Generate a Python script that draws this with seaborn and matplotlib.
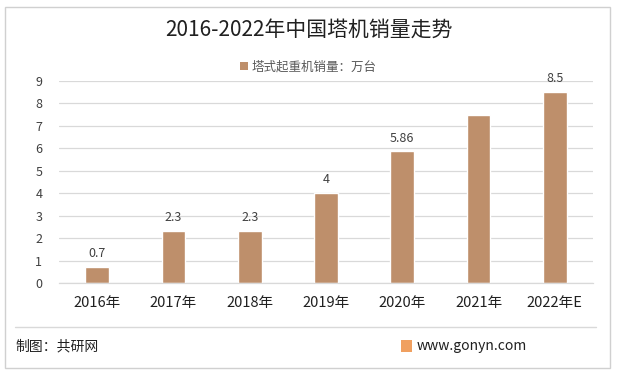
import matplotlib
matplotlib.use("Agg")
import matplotlib.pyplot as plt
import seaborn as sns
import pandas as pd
from matplotlib.patches import Rectangle, Patch
from matplotlib.lines import Line2D

categories = ["2016年", "2017年", "2018年", "2019年", "2020年", "2021年", "2022年E"]
values = [0.7, 2.3, 2.3, 4.0, 5.86, 7.5, 8.5]
labels = ["0.7", "2.3", "2.3", "4", "5.86", "", "8.5"]
series_name = "塔式起重机销量：万台"
title = "2016-2022年中国塔机销量走势"
yticks = list(range(0, 10))

sns.set_theme(style="white")
plt.rcParams['font.family'] = ['Noto Sans CJK SC', 'DejaVu Sans']

color = "#BE8F6B"
text_color = "#404040"

df = pd.DataFrame({"cat": categories, "val": values})

fig = plt.figure(figsize=(6.17, 3.75), dpi=100)
ax = fig.add_axes([59/617, 1-283/375, 534/617, 202/375])

sns.barplot(data=df, x="cat", y="val", color=color, width=0.31, ax=ax, saturation=1)

ax.set_ylim(0, 9)
ax.set_yticks(yticks)
ax.set_yticklabels([str(t) for t in yticks], fontsize=9, color=text_color)
ax.set_xlim(-0.5, len(categories) - 0.5)
ax.set_xlabel("")
ax.set_ylabel("")
ax.tick_params(axis='x', labelsize=10.5, colors="#202020", length=0, pad=9)
ax.tick_params(axis='y', length=0, pad=12)
ax.yaxis.grid(True, color="#D9D9D9", linewidth=0.9)
ax.set_axisbelow(True)
for s in ["top", "right", "left"]:
    ax.spines[s].set_visible(False)
ax.spines["bottom"].set_color("#D9D9D9")
ax.spines["bottom"].set_linewidth(0.9)

for i, (v, lab) in enumerate(zip(values, labels)):
    if lab:
        ax.annotate(lab, (i, v), xytext=(0, 5), textcoords="offset points",
                    ha="center", va="bottom", fontsize=9, color=text_color)

fig.text(0.5, 1-30/375, title, ha="center", va="center", fontsize=15, color="#202020")

# legend
fig.legend(handles=[Patch(facecolor=color, edgecolor="none")], labels=[series_name],
           loc="center", bbox_to_anchor=(0.5, 1-67/375), frameon=False, fontsize=9,
           handlelength=0.6, handleheight=0.6, handletextpad=0.3, labelcolor="#595959")

# outer border
fig.patches.append(Rectangle((5/617, 7/375), 605/617, 361/375, transform=fig.transFigure,
                             fill=False, edgecolor="#D0D0D0", linewidth=1))
# footer separator
fig.lines.append(Line2D([15/617, 596/617], [1-327/375, 1-327/375], transform=fig.transFigure,
                        color="#D9D9D9", linewidth=1))
fig.text(15/617, 1-346/375, "制图：共研网", ha="left", va="center", fontsize=10, color="#202020")
fig.patches.append(Rectangle((401/617, 1-352/375), 11/617, 12/375, transform=fig.transFigure,
                             facecolor="#F0A060", edgecolor="none"))
fig.text(417/617, 1-346/375, "www.gonyn.com", ha="left", va="center", fontsize=10, color="#202020")

fig.savefig("out.png", dpi=100)
